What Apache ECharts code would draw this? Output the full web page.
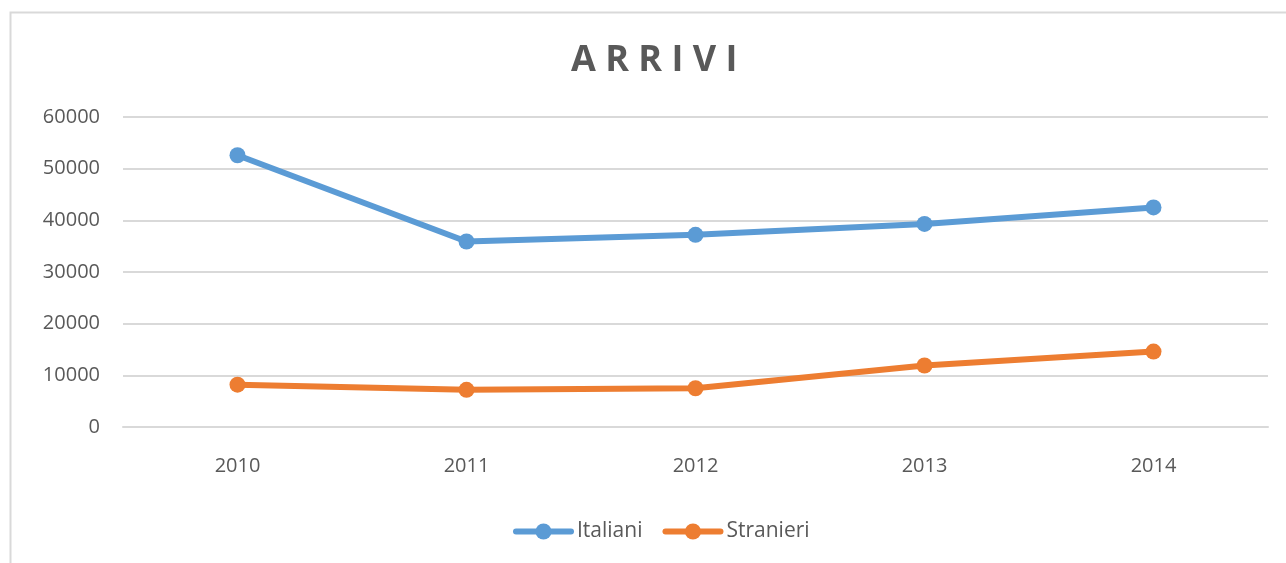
<!DOCTYPE html>
<html lang="it">
<head>
    <meta charset="UTF-8">
    <title>Arrivi</title>
    <script src="https://cdn.jsdelivr.net/npm/echarts@6.0.0/dist/echarts.min.js"></script>
    <style type="text/css">
        *{
            margin: 0;
            padding: 0;
        }
        #chart{
            width: 1286px;
            height: 563px;
            background: #fff;
        }
    </style>
</head>
<body>
    <div id="chart"></div>
</body>
<script>
    // dati
    var anni = ['2010', '2011', '2012', '2013', '2014'];
    var italiani = [52600, 35900, 37200, 39300, 42500];
    var stranieri = [8200, 7200, 7500, 11900, 14600];
    var yTicks = [0, 10000, 20000, 30000, 40000, 50000, 60000];

    var font = '"Open Sans", sans-serif';
    var grigio = '#595959';

    var myChart = echarts.init(document.getElementById('chart'));

    function serie(nome, dati, colore) {
        return {
            name: nome,
            type: 'line',
            data: dati,
            symbol: 'circle',
            symbolSize: 16,
            itemStyle: {color: colore},
            lineStyle: {color: colore, width: 6, cap: 'round'},
            emphasis: {disabled: true}
        };
    }

    var option = {
        animation: false,
        backgroundColor: '#fff',
        // cornice del grafico (tagliata a destra e in basso)
        graphic: [{
            type: 'rect',
            shape: {x: 10.5, y: 12.5, width: 1400, height: 700},
            style: {fill: 'none', stroke: '#d9d9d9', lineWidth: 2},
            silent: true
        }],
        title: {
            text: 'A R R I V I',
            left: 566,
            top: 38,
            textStyle: {
                fontFamily: font,
                fontSize: 36,
                fontWeight: 'bold',
                color: grigio
            }
        },
        legend: {
            bottom: 16,
            left: 508,
            itemWidth: 55,
            itemHeight: 20,
            itemGap: 20,
            lineStyle: {width: 6},
            textStyle: {fontFamily: font, fontSize: 21, color: grigio, padding: [0, 0, 0, 1]},
            data: ['Italiani', 'Stranieri']
        },
        grid: {
            left: 123,
            right: 18,
            top: 117,
            bottom: 136,
            containLabel: false
        },
        xAxis: {
            type: 'category',
            data: anni,
            boundaryGap: true,
            axisLine: {lineStyle: {color: '#d9d9d9', width: 2}},
            axisTick: {show: false},
            axisLabel: {fontFamily: font, fontSize: 20, color: grigio, margin: 29}
        },
        yAxis: {
            type: 'value',
            min: yTicks[0],
            max: yTicks[yTicks.length - 1],
            interval: yTicks[1] - yTicks[0],
            axisLine: {show: false},
            axisTick: {show: false},
            splitLine: {lineStyle: {color: '#d9d9d9', width: 2}},
            axisLabel: {
                fontFamily: font, fontSize: 20, color: grigio, margin: 23,
                formatter: function (v) { return String(v); }
            }
        },
        series: [
            serie('Italiani', italiani, '#5B9BD5'),
            serie('Stranieri', stranieri, '#ED7D31')
        ]
    };
    myChart.setOption(option);
</script>
</html>
